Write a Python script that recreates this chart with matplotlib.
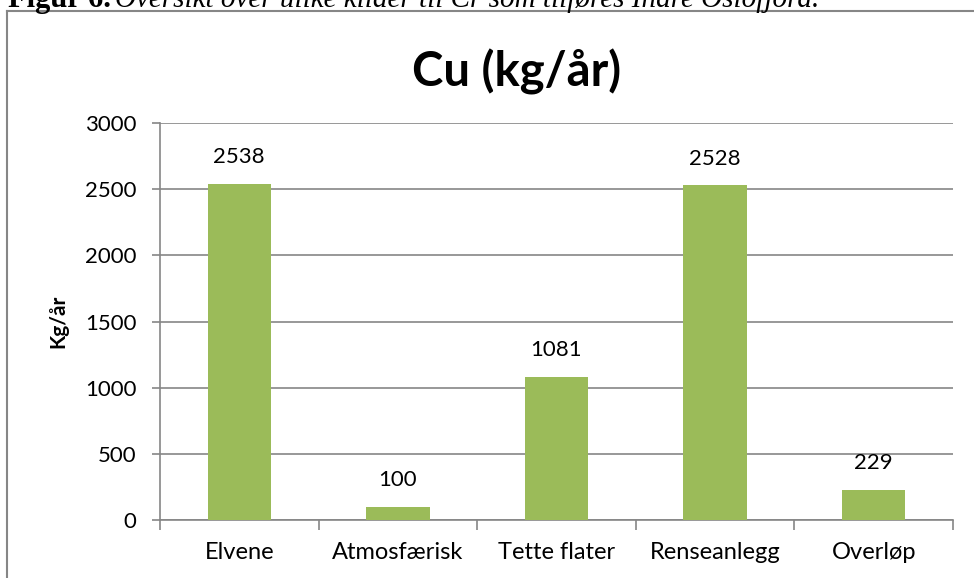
import matplotlib.pyplot as plt
from matplotlib.lines import Line2D

categories = ['Elvene', 'Atmosfærisk', 'Tette flater', 'Renseanlegg', 'Overløp']
values = [2538, 100, 1081, 2528, 229]
yticks = [0, 500, 1000, 1500, 2000, 2500, 3000]

font = ['Lato', 'DejaVu Sans']
plt.rcParams['font.family'] = font
grey = '#868686'

fig = plt.figure(figsize=(9.74, 5.78), dpi=100)
ax = fig.add_axes([160 / 974, 1 - 520 / 578, 793 / 974, (520 - 123) / 578])

x = range(len(categories))
bars = ax.bar(x, values, width=0.4, color='#9BBB59', zorder=3)
for b, v in zip(bars, values):
    ax.annotate(str(v), (b.get_x() + b.get_width() / 2, v), xytext=(0, 12),
                textcoords='offset points', ha='center', va='bottom', fontsize=16)

ax.set_xlim(-0.5, len(categories) - 0.5)
ax.set_ylim(0, 3000)
ax.set_yticks(yticks)
ax.set_xticks(x)
ax.set_xticklabels(categories, fontsize=17)
ax.tick_params(axis='y', labelsize=16, length=6, color=grey, width=1.2, pad=11)
ax.tick_params(axis='x', length=0, pad=16)
# category boundary ticks
ax.set_xticks([i - 0.5 for i in range(len(categories) + 1)], minor=True)
ax.tick_params(axis='x', which='minor', length=7, color=grey, width=1.2)
ax.grid(axis='y', color=grey, linewidth=1.2, zorder=0)
for s in ['top', 'right']:
    ax.spines[s].set_visible(False)
for s in ['left', 'bottom']:
    ax.spines[s].set_color(grey)
    ax.spines[s].set_linewidth(1.2)

ax.set_ylabel('Kg/år', fontsize=15, fontweight='bold', labelpad=12)
fig.text(517 / 974, 1 - 72 / 578, 'Cu (kg/år)', ha='center', va='center',
         fontsize=34, fontweight='bold')

# outer frame of the chart area
fig.add_artist(Line2D([7 / 974, 7 / 974], [0, 1 - 11 / 578], transform=fig.transFigure,
                      color=grey, linewidth=1.5))
fig.add_artist(Line2D([7 / 974, 1], [1 - 11 / 578, 1 - 11 / 578], transform=fig.transFigure,
                      color=grey, linewidth=1.5))

# caption, cut off at the top as in the source
fig.text(8 / 974, 1 - 7 / 578, 'Figur 6.', ha='left', va='baseline',
         fontsize=22, fontweight='bold', family='Liberation Serif')
fig.text(115 / 974, 1 - 7 / 578, 'Oversikt over ulike kilder til Cr som tilføres Indre Oslofjord.',
         ha='left', va='baseline', fontsize=21, style='italic', family='Liberation Serif')

fig.savefig('out.png', dpi=100)
